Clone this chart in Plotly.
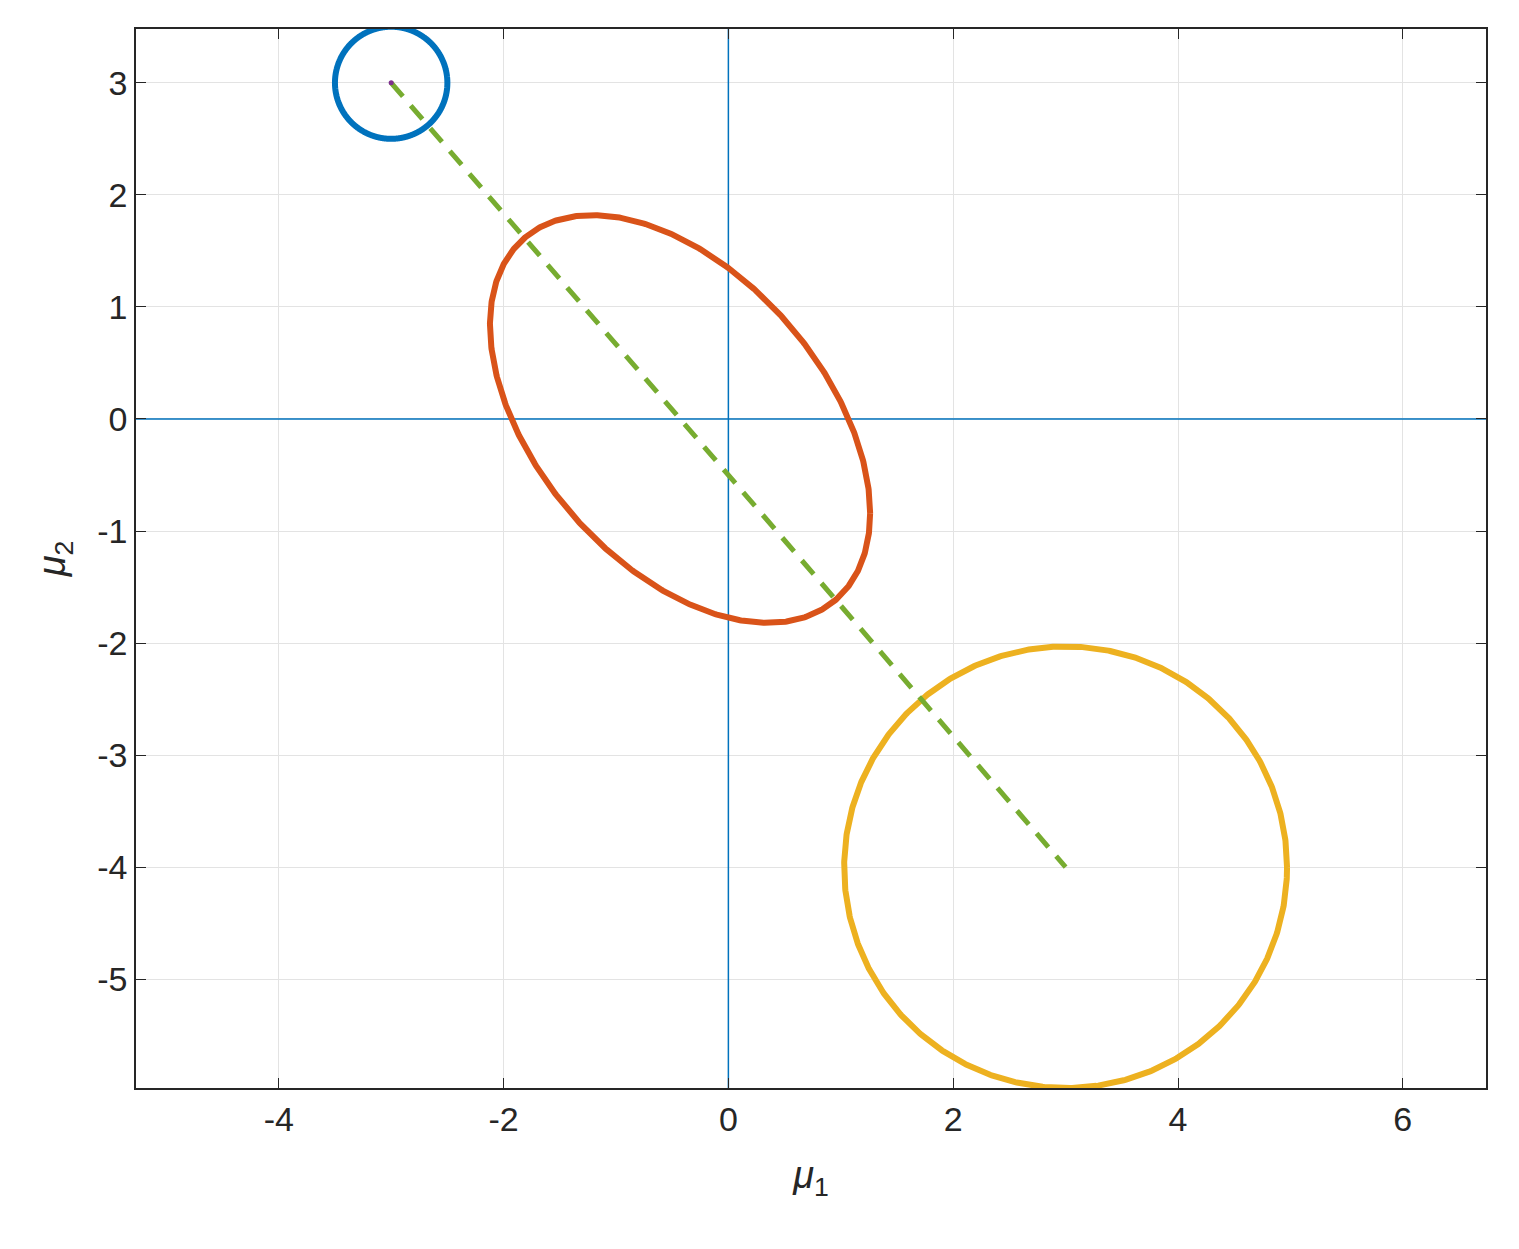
import numpy as np
import plotly.graph_objects as go

prior_center = [-3.0, 3.0]
prior_radius = 0.5
like_center = [3.0, -4.0]
like_radius = 1.97
post_center = [-0.43, 0.0]
post_cov = [[2.86, -1.42], [-1.42, 3.31]]
path_x = [-3.0, 3.0]
path_y = [3.0, -4.0]
xticks = [-4, -2, 0, 2, 4, 6]
yticks = [-5, -4, -3, -2, -1, 0, 1, 2, 3]

t = np.linspace(0, 2*np.pi, 800)
def circ(c, r):
    return c[0] + r*np.cos(t), c[1] + r*np.sin(t)
L = np.linalg.cholesky(np.array(post_cov))
E = L @ np.vstack([np.cos(t), np.sin(t)])
ex, ey = post_center[0] + E[0], post_center[1] + E[1]

fig = go.Figure()
XR = [-5.27, 6.74]; YR = [-5.97, 3.48]
fig.add_trace(go.Scatter(x=XR, y=[0, 0], mode="lines", line=dict(color="#0072BD", width=1.5)))
fig.add_trace(go.Scatter(x=[0, 0], y=YR, mode="lines", line=dict(color="#0072BD", width=1.5)))
bx, by = circ(prior_center, prior_radius)
fig.add_trace(go.Scatter(x=bx, y=by, mode="lines", line=dict(color="#0072BD", width=6, shape="spline")))
fig.add_trace(go.Scatter(x=ex, y=ey, mode="lines", line=dict(color="#D95319", width=6)))
yx, yy = circ(like_center, like_radius)
fig.add_trace(go.Scatter(x=yx, y=yy, mode="lines", line=dict(color="#EDB120", width=6)))
fig.add_trace(go.Scatter(x=path_x, y=path_y, mode="lines", line=dict(color="#77AC30", width=5, dash="18px,12px")))
fig.add_trace(go.Scatter(x=[prior_center[0]], y=[prior_center[1]], mode="markers", marker=dict(color="#7E2F8E", size=5)))

ax = dict(showline=True, linecolor="#262626", linewidth=1.5, mirror="ticks", ticks="inside", ticklen=10,
          tickcolor="#262626", showgrid=True, gridcolor="#E3E3E3", gridwidth=1.2, zeroline=False,
          tickfont=dict(family="Liberation Sans, Arial", size=34, color="#262626"))
fig.update_xaxes(range=XR, tickvals=xticks, ticktext=[str(v) for v in xticks], **ax,
                 title=dict(text="<i>μ</i><sub>1</sub>", font=dict(family="Liberation Sans", size=38, color="#262626"), standoff=25))
fig.update_yaxes(range=YR, tickvals=yticks, ticktext=[str(v) for v in yticks], **ax,
                 title=dict(text="<i>μ</i><sub>2</sub>", font=dict(family="Liberation Sans", size=38, color="#262626"), standoff=20))
fig.update_layout(width=1519, height=1249, showlegend=False, plot_bgcolor="white", paper_bgcolor="white",
                  margin=dict(l=128, r=41, t=21, b=169))
fig.write_html("out.html")
